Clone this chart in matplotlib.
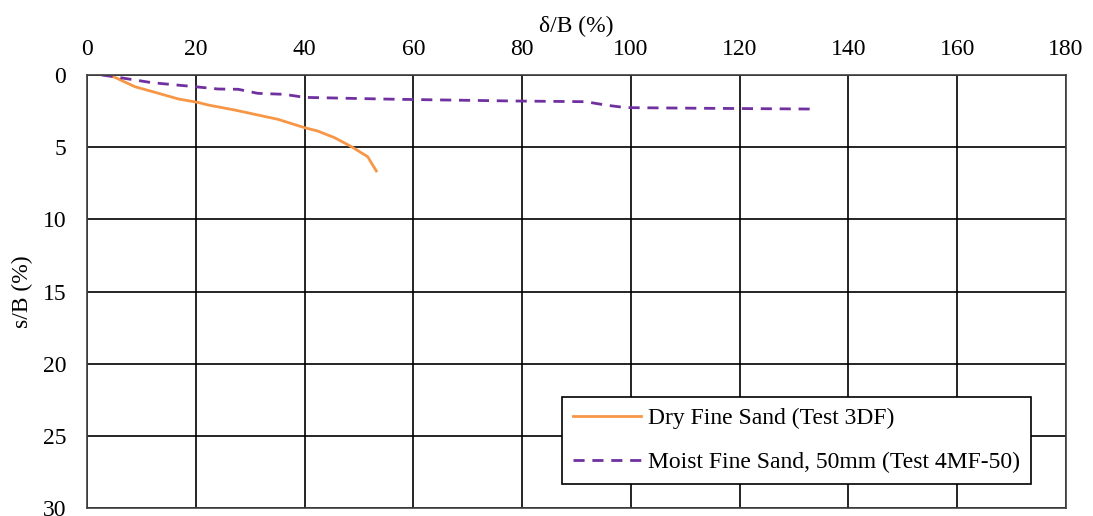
import matplotlib.pyplot as plt

# Dry Fine Sand (Test 3DF)
dry_x = [4.2, 8.8, 12.5, 16.8, 20.4, 22.3, 27.2, 31.4, 35.1, 40.0, 42.4, 45.5, 48.6, 51.6, 53.2]
dry_y = [0.0, 0.81, 1.2, 1.66, 1.9, 2.08, 2.43, 2.77, 3.07, 3.65, 3.88, 4.34, 4.96, 5.66, 6.65]

# Moist Fine Sand, 50mm (Test 4MF-50)
moist_x = [2.7, 5.7, 11.9, 19.8, 24.1, 27.8, 31.4, 36.3, 40.0, 53.8, 58.3, 78.2, 91.7, 95.3, 99.0, 114.9, 133.9]
moist_y = [0.0, 0.16, 0.53, 0.81, 0.97, 0.99, 1.27, 1.34, 1.55, 1.66, 1.69, 1.8, 1.85, 2.08, 2.26, 2.31, 2.36]

x_ticks = list(range(0, 181, 20))
y_ticks = list(range(0, 31, 5))

plt.rcParams['font.family'] = ['Liberation Serif', 'DejaVu Serif']
plt.rcParams['font.size'] = 17

fig = plt.figure(figsize=(10.93, 5.16), dpi=100)
ax = fig.add_axes([87/1093, 8/516, 979/1093, 433/516])

ax.plot(dry_x, dry_y, color='#F79646', lw=2, label='Dry Fine Sand (Test 3DF)')
ax.plot(moist_x, moist_y, color='#7030A0', lw=2, ls=(0, (4, 2.8)),
        label='Moist Fine Sand, 50mm (Test 4MF-50)')

ax.set_xlim(0, 180)
ax.set_ylim(30, 0)
ax.set_xticks(x_ticks)
ax.set_yticks(y_ticks)
ax.xaxis.tick_top()
ax.xaxis.set_label_position('top')
ax.tick_params(axis='x', length=0, pad=11)
ax.tick_params(axis='y', length=0, pad=15)
ax.set_xlabel('δ/B (%)', labelpad=5)
ax.set_ylabel('s/B (%)', labelpad=7)
ax.grid(True, color='black', lw=1.2)
for s in ax.spines.values():
    s.set_color('#404040')
    s.set_linewidth(1.2)

leg = ax.legend(loc='lower right', bbox_to_anchor=(944/979, 24/433), fancybox=False,
                edgecolor='black', framealpha=1, handlelength=2.9, handletextpad=0.3,
                borderpad=0.45, labelspacing=0.95, borderaxespad=0)
leg.get_frame().set_linewidth(1.2)

fig.savefig('out.png', dpi=100)
